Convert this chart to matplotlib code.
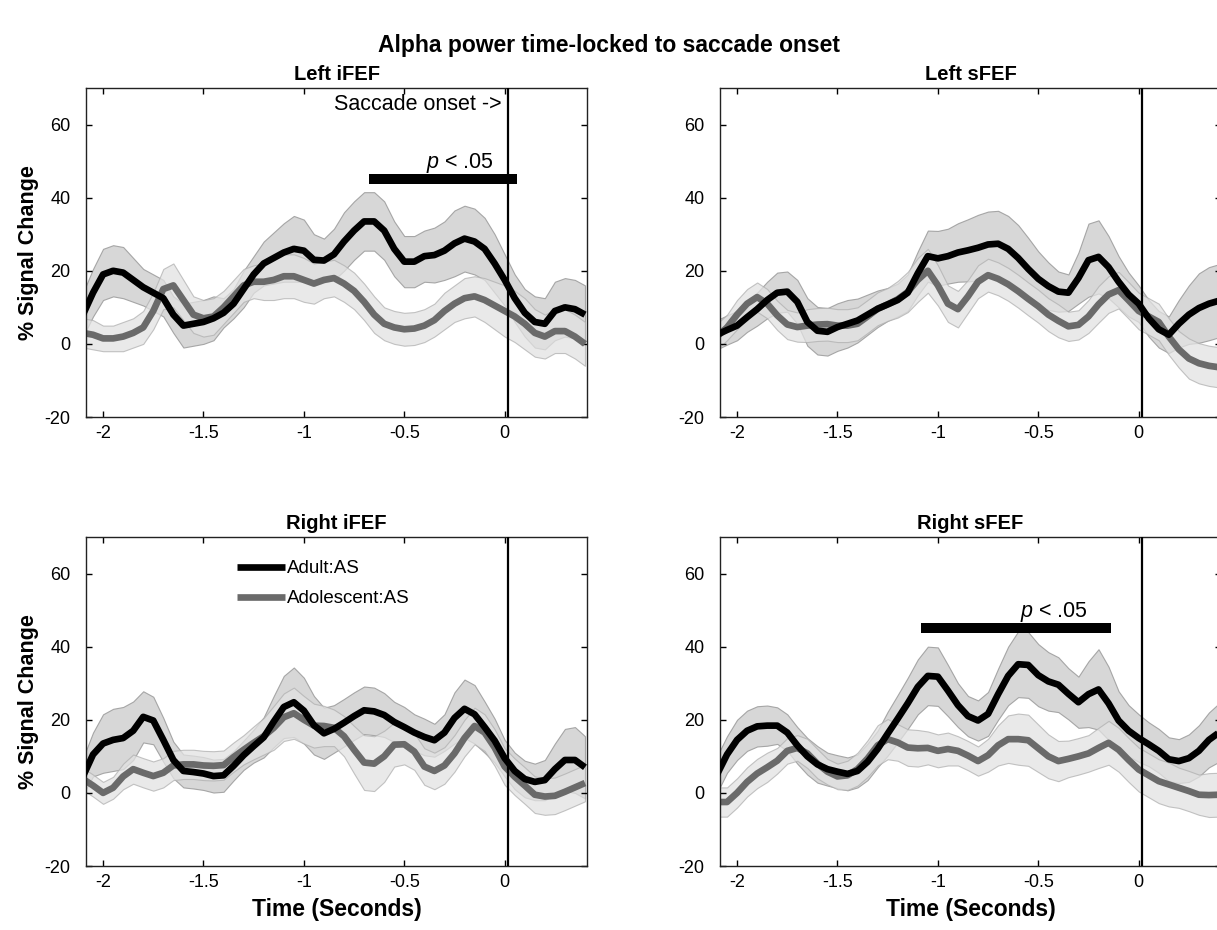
import numpy as np
import matplotlib
matplotlib.use("Agg")
import matplotlib.pyplot as plt

plt.rcParams['font.family'] = ['Liberation Sans', 'DejaVu Sans']
plt.rcParams['mathtext.fontset'] = 'custom'
plt.rcParams['mathtext.it'] = 'Liberation Sans:italic'
plt.rcParams['mathtext.rm'] = 'Liberation Sans'
plt.rcParams['axes.unicode_minus'] = False

# time axis (seconds relative to saccade onset), 0.05 s steps
time = np.round(np.linspace(-2.10, 0.40, 51), 2)

# ---- Left iFEF ----
left_ifef_adult = [8, 14, 19, 20, 19.5, 17.5, 15.5, 14, 12.5, 8, 5, 5.5, 6, 7, 8.5, 11, 15, 19, 22, 23.5,
                   25, 26, 25.5, 23, 22.8, 24.5, 28, 31, 33.5, 33.5, 31, 26, 22.5, 22.5, 24, 24.3, 25.5,
                   27.5, 28.8, 28, 26, 22, 17.5, 12.5, 8.5, 6, 5.5, 9, 10, 9.5, 8]
left_ifef_adult_se = [6, 6.5, 7, 7, 7, 6, 5, 5, 5, 5, 6, 6, 6, 6, 4, 4, 5, 5, 6, 7, 8, 9, 8.5, 7, 6, 7, 8,
                      8, 8, 8, 8, 7.5, 7, 7, 7, 7.5, 8, 9, 9, 9, 8.5, 8, 7, 6.5, 6.5, 7, 7, 8, 8, 8, 8]
left_ifef_adol = [3, 2.5, 1.5, 1.5, 2, 3, 4.5, 9, 15, 16, 12, 8, 7, 7.5, 10, 13, 16, 17, 17, 17.5, 18.5,
                  18.5, 17.5, 16.5, 17.5, 18, 16.5, 14.5, 11.5, 8, 5.5, 4.5, 4, 4.2, 5, 6.5, 9, 11, 12.5,
                  13, 12, 10.5, 9, 7.5, 5.5, 3, 2, 3.5, 3.5, 2, 0]
left_ifef_adol_se = [4, 4, 3.5, 3.5, 4, 4, 4.5, 5, 5.5, 6, 5.5, 5, 5, 5, 4.5, 4.5, 4.5, 4.5, 5, 5.5, 6, 6,
                     6, 5.5, 5, 5, 5, 5, 5, 5, 4.5, 4.5, 4.5, 4.5, 4.5, 4.5, 5, 5, 5.5, 5.5, 6, 6.5, 7, 7,
                     7, 6.5, 6, 6, 6, 6, 6]

# ---- Left sFEF ----
left_sfef_adult = [2.5, 3.8, 5, 7.3, 9.5, 12, 14, 14.3, 11.5, 6, 3.6, 3.3, 4.6, 5.5, 6.4, 8, 9.6, 10.8, 12,
                   14, 19.3, 24, 23.4, 24, 25, 25.6, 26.3, 27.2, 27.4, 26, 23.5, 20.5, 17.8, 15.8, 14.3,
                   14, 18, 22.9, 23.8, 21, 17, 13.5, 11, 7, 4, 2.5, 5.5, 8, 9.8, 11, 11.8]
left_sfef_adult_se = [4, 4, 4, 4, 4.5, 5, 5.5, 5.5, 6, 6.5, 6.5, 6.5, 6.5, 6.5, 6, 5.5, 5, 4.5, 4.5, 5, 6,
                      7, 7.5, 7.5, 8, 8.5, 9, 9, 9, 9, 9, 8.5, 7.5, 6.5, 5.5, 5, 7, 10, 10, 8.5, 7, 6, 5,
                      5, 5, 5, 6.5, 8, 9.5, 10, 10]
left_sfef_adol = [2, 4.5, 8, 11, 12.8, 11, 7.8, 5.3, 4.6, 5, 5.3, 5.4, 5, 5, 5.5, 7.5, 9.6, 10.8, 12.2,
                  14.2, 17.5, 20, 16, 11, 9.5, 13, 17, 18.8, 17.8, 16.3, 14.4, 12.3, 10.3, 8, 6.3, 4.8,
                  5.2, 7.5, 10.8, 13.5, 14.7, 11.9, 9, 7.5, 6, 2, -1.5, -4, -5.3, -6, -6.4]
left_sfef_adol_se = [3.5, 3.5, 4, 4, 4, 4, 4, 4, 4, 4.5, 4.5, 4.5, 4.5, 4.5, 4.5, 4.5, 4.5, 4.5, 5, 5.5, 6,
                     6, 5.5, 5, 5, 4.5, 4.5, 4.5, 4.5, 4.5, 4.5, 4.5, 4.5, 4.5, 4.5, 4, 4, 4.5, 5, 5, 5,
                     5, 5, 5, 5, 5, 5, 5.5, 5.5, 5.5, 5.5]

# ---- Right iFEF ----
right_ifef_adult = [4.5, 10.5, 13.5, 14.5, 15, 17, 20.8, 19.8, 14.5, 9, 6, 5.7, 5.3, 4.6, 4.8, 7.4, 10.3,
                    12.8, 15.2, 19.5, 23.5, 24.8, 22.5, 18.5, 16.3, 17.5, 19.2, 21, 22.6, 22.3, 21.3,
                    19.4, 18, 16.5, 15.3, 14.4, 16.5, 20.5, 23, 21.5, 18, 14.3, 9.5, 6, 3.8, 3, 3.5, 6.5,
                    9, 9, 7]
right_ifef_adult_se = [5, 6, 8, 8.5, 8.5, 8, 7, 6.5, 6, 5, 4.5, 4.5, 4.5, 4.5, 4.5, 4, 4, 4.5, 5.5, 7,
                       8.5, 9.5, 9, 8, 7, 6.5, 6.5, 6.5, 6.5, 6.5, 6, 5.5, 5.5, 5, 5, 4.5, 5, 7, 8, 8, 7,
                       6, 5, 5, 5, 5, 5.5, 7, 8.5, 9, 8.5]
right_ifef_adol = [3.8, 2, 0, 1.4, 4.5, 6.5, 5.5, 4.6, 5.5, 7.5, 7.8, 7.8, 7.5, 7.4, 7.6, 9.8, 11.8, 13.7,
                   15.5, 17.8, 20.7, 21.8, 20, 18.4, 18.3, 17.8, 15.5, 11.8, 8.3, 8, 10, 13.2, 13.3,
                   11.3, 7.2, 6, 7.5, 10.8, 15, 18.3, 16.5, 12.4, 7.2, 4.4, 2, -0.5, -1, -0.8, 0.3, 1.5,
                   2.7]
right_ifef_adol_se = [3, 3, 3, 3, 3.5, 4, 4, 4, 4, 4, 4, 4, 4, 4, 4, 4, 4, 4.5, 5, 6, 6.5, 7, 6.5, 6,
                      5.5, 5, 5.5, 6.5, 7.5, 7.5, 7, 6, 5.5, 5, 5, 5, 5, 5, 5, 5, 5, 5, 5, 5, 5, 5, 5, 5,
                      5, 5, 5]

# ---- Right sFEF ----
right_sfef_adult = [5, 10.5, 14.5, 17, 18.2, 18.4, 18.4, 16.5, 13, 10, 7.8, 6.5, 5.8, 5.2, 6, 8.5, 12,
                    16.2, 20.3, 24.5, 29, 32, 31.8, 28, 24, 21, 19.8, 21.6, 27, 32, 35.2, 35, 32.2, 30.5,
                    29.6, 27.1, 24.8, 27, 28.3, 24.5, 19.8, 17, 15, 13.3, 11.5, 9.2, 8.7, 9.5, 11.5,
                    14.5, 16.5]
right_sfef_adult_se = [5, 5, 5.5, 5.5, 5.5, 5.5, 5, 5, 5, 5, 5, 4.5, 4.5, 4.5, 4.5, 5, 5, 6, 6.5, 7,
                       7.5, 8, 8, 7, 6, 5.5, 5.5, 6, 7, 8, 9, 9, 8.5, 8, 7.5, 7, 7, 9, 11, 10, 8, 7, 6.5,
                       6, 6, 6, 6, 6.5, 7, 7.5, 8]
right_sfef_adol = [-2.5, -2.5, 0, 3, 5.3, 7, 8.8, 11.5, 12.3, 10.8, 8, 5.8, 4.5, 4.8, 6.5, 9.4, 13, 14.7,
                   13.8, 12.4, 12.2, 12.3, 11.5, 12, 11.5, 10.2, 8.7, 10.3, 13, 14.7, 14.7, 14.4, 12.2,
                   10, 8.7, 9.3, 10, 10.8, 12.3, 13.7, 11.8, 9, 6.4, 4.8, 3.2, 2.3, 1.4, 0.5, -0.5, -0.6,
                   -0.5]
right_sfef_adol_se = [4, 4, 4, 4, 4, 4, 3.5, 3.5, 3.5, 4, 4, 3.5, 3.5, 4, 4.5, 5, 5.5, 5.5, 5, 5, 5,
                      4.5, 4.5, 4.5, 4, 4, 4, 4.5, 5.5, 6.5, 7, 7, 6.5, 6, 5.5, 5, 5, 5, 5.5, 6, 6, 6, 6,
                      6, 6, 6, 5.5, 5.5, 5.5, 6, 6]

panel_titles = ['Left iFEF', 'Left sFEF', 'Right iFEF', 'Right sFEF']
series_labels = ['Adult:AS', 'Adolescent:AS']
xticks = [-2, -1.5, -1, -0.5, 0]
xticklabels = ['-2', '-1.5', '-1', '-0.5', '0']
yticks = [-20, 0, 20, 40, 60]
onset_line = 0.015
sig_left_ifef = [-0.675, 0.06]
sig_right_sfef = [-1.085, -0.14]
sig_level = 45.1

panels = [
    (left_ifef_adult, left_ifef_adult_se, left_ifef_adol, left_ifef_adol_se),
    (left_sfef_adult, left_sfef_adult_se, left_sfef_adol, left_sfef_adol_se),
    (right_ifef_adult, right_ifef_adult_se, right_ifef_adol, right_ifef_adol_se),
    (right_sfef_adult, right_sfef_adult_se, right_sfef_adol, right_sfef_adol_se),
]

W, H = 1217, 930
fig = plt.figure(figsize=(W / 100, H / 100), dpi=100)

def frac_rect(l, t, r, b):
    return [l / W, 1 - b / H, (r - l) / W, (b - t) / H]

rects = [frac_rect(86, 88, 587, 417), frac_rect(720, 88, 1221, 417),
         frac_rect(86, 537, 587, 866), frac_rect(720, 537, 1221, 866)]

adult_color = 'black'
adol_color = '#6a6a6a'

for i, (rect, data) in enumerate(zip(rects, panels)):
    ax = fig.add_axes(rect)
    am, ase, dm, dse = [np.array(d, dtype=float) for d in data]
    ax.fill_between(time, am - ase, am + ase, facecolor='#d0d0d0', edgecolor='#9a9a9a',
                    linewidth=0.8, alpha=0.85, zorder=1)
    ax.fill_between(time, dm - dse, dm + dse, facecolor='#e2e2e2', edgecolor='#b0b0b0',
                    linewidth=0.8, alpha=0.75, zorder=1.5)
    l1, = ax.plot(time, am, color=adult_color, lw=4.8, zorder=3, solid_capstyle='butt',
                  label=series_labels[0])
    l2, = ax.plot(time, dm, color=adol_color, lw=4.8, zorder=2.5, solid_capstyle='butt',
                  label=series_labels[1])
    ax.axvline(onset_line, color='black', lw=1.6, zorder=4)
    ax.set_xlim(-2.085, 0.41)
    ax.set_ylim(-20, 70)
    ax.set_xticks(xticks)
    ax.set_xticklabels(xticklabels)
    ax.set_yticks(yticks)
    ax.tick_params(axis='both', direction='in', length=4, width=1, top=True, right=True,
                   labelsize=13, colors='black')
    ax.tick_params(axis='x', pad=6)
    ax.tick_params(axis='y', pad=11)
    for s in ax.spines.values():
        s.set_linewidth(1.0)
        s.set_color('#222222')
    ax.set_title(panel_titles[i], fontsize=14.5, fontweight='bold', pad=6)
    if i % 2 == 0:
        ax.set_ylabel('% Signal Change', fontsize=15.5, fontweight='bold', labelpad=4)
    if i >= 2:
        ax.set_xlabel('Time (Seconds)', fontsize=16.5, fontweight='bold', labelpad=5)
    if i == 0:
        ax.text(-0.015, 65.5, 'Saccade onset ->', ha='right', va='center', fontsize=15.5)
        ax.hlines(sig_level, sig_left_ifef[0], sig_left_ifef[1], color='black', lw=7.2, zorder=5)
        ax.text(-0.39, 48.0, r'$\it{p}$ < .05', ha='left', va='baseline', fontsize=15.5)
    if i == 3:
        ax.hlines(sig_level, sig_right_sfef[0], sig_right_sfef[1], color='black', lw=7.2, zorder=5)
        ax.text(-0.59, 48.0, r'$\it{p}$ < .05', ha='left', va='baseline', fontsize=15.5)
    if i == 2:
        ax.legend(handles=[l1, l2], loc='upper left', bbox_to_anchor=(0.301, 0.93),
                  frameon=False, fontsize=13.5, handlelength=2.55, handletextpad=0.15,
                  labelspacing=0.7, borderpad=0, borderaxespad=0)

fig.text(0.5, 1 - 52 / H, 'Alpha power time-locked to saccade onset', ha='center', va='baseline',
         fontsize=16.5, fontweight='bold')

fig.savefig('out.png', dpi=100)
